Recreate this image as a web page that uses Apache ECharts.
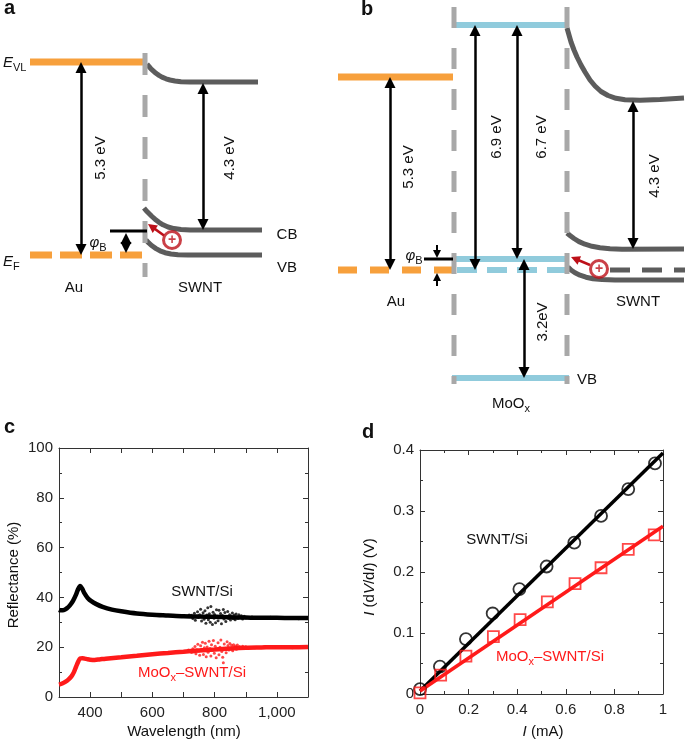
<!DOCTYPE html>
<html><head><meta charset="utf-8">
<script src="https://cdn.jsdelivr.net/npm/echarts@6/dist/echarts.min.js"></script>
<style>html,body{margin:0;padding:0;background:#fff}#c{width:685px;height:740px}</style>
</head><body><div id="c"></div>
<script>
// ================= Panel c : reflectance =================
const wavelengthLabels = [400, 600, 800, 1000];
const swntReflect = [[300,35],[305,34.8],[315,34.9],[325,35.6],[335,36.8],[345,38.6],[355,41.2],[362,43.5],[368,44.6],[374,43.6],[382,41.6],[392,39.8],[405,38.4],[420,37.3],[440,36.2],[470,35.1],[500,34.4],[550,33.5],[600,33.0],[650,32.7],[700,32.4],[750,32.3],[800,32.2],[850,32.0],[900,31.9],[950,31.8],[1000,31.8],[1050,31.7],[1100,31.7]];
const swntNoise = [[718,32.9],[725,32.8],[730,31.5],[735,33.6],[738,30.8],[742,32.1],[745,34.2],[748,31.9],[752,33.0],[755,35.2],[758,30.5],[760,32.6],[763,33.8],[766,31.2],[769,34.6],[772,29.6],[775,32.9],[778,35.8],[780,31.0],[783,33.4],[786,30.0],[788,36.3],[790,32.2],[793,29.1],[795,34.0],[798,31.6],[800,33.1],[803,29.8],[806,35.0],[808,32.4],[811,30.6],[814,34.8],[816,31.8],[819,33.5],[822,29.4],[825,32.7],[828,35.1],[830,31.3],[833,33.9],[836,30.3],[839,32.0],[842,34.3],[845,31.5],[848,33.0],[851,30.9],[854,32.5],[857,33.7],[860,31.4],[863,32.9],[866,31.0],[869,33.3],[872,32.1],[875,31.6],[878,33.0],[882,31.9],[886,32.6],[890,31.3],[895,32.4],[900,31.7],[920,32.1],[950,31.5],[980,32.0],[1010,31.5],[1040,31.9],[1070,31.4]];
const moReflect = [[300,5.0],[310,5.4],[320,6.1],[330,7.0],[340,8.3],[348,10.0],[355,12.2],[362,14.3],[368,15.5],[375,15.6],[382,15.4],[390,15.2],[400,15.0],[415,14.9],[430,15.1],[450,15.4],[500,16.0],[550,16.6],[600,17.2],[650,17.7],[700,18.2],[750,18.7],[800,19.1],[850,19.5],[900,19.8],[950,19.9],[1000,20.0],[1050,20.0],[1100,20.1]];
const moNoise = [[716,18.9],[722,18.6],[726,17.9],[730,19.4],[733,18.1],[737,20.3],[740,17.4],[743,19.0],[746,21.2],[749,18.5],[752,16.8],[755,20.6],[758,19.2],[761,22.0],[764,17.1],[767,19.8],[770,21.6],[773,16.2],[776,20.1],[779,18.0],[782,22.4],[785,19.5],[788,16.5],[790,21.0],[793,18.8],[796,22.7],[799,17.6],[802,20.4],[805,15.8],[808,19.1],[811,21.8],[814,17.0],[817,20.0],[820,22.9],[823,18.3],[826,16.0],[828,13.8],[831,21.3],[834,19.6],[837,17.8],[840,22.2],[843,20.7],[846,18.9],[849,21.5],[852,19.3],[855,20.8],[858,18.6],[861,21.0],[864,19.7],[867,20.5],[870,19.2],[873,20.9],[876,19.8],[880,20.3],[885,19.6],[890,20.4],[895,19.9],[900,20.2],[930,19.8],[960,20.3],[990,19.9],[1020,20.3],[1050,19.8],[1080,20.2]];

// ================= Panel d : I dV/dI vs I =================
const swntCurrent = [0, 0.082, 0.189, 0.299, 0.409, 0.521, 0.635, 0.745, 0.857, 0.967];
const swntIdVdI   = [0.008, 0.045, 0.090, 0.132, 0.172, 0.209, 0.248, 0.292, 0.336, 0.378];
const moCurrent   = [0, 0.085, 0.189, 0.302, 0.412, 0.524, 0.638, 0.745, 0.857, 0.964];
const moIdVdI     = [0.002, 0.031, 0.062, 0.094, 0.122, 0.151, 0.181, 0.207, 0.237, 0.261];
const swntFit = [[0, 0.005], [1, 0.395]];
const moFit   = [[0, 0.005], [1, 0.275]];

// ================= Panels a, b : band diagrams (schematic units) =================
const aAuVacuum   = [[30,62],[143,62]];
const aAuFermi    = [[30,255],[143,255]];
const aInterface  = [[145,53],[145,277]];
const aSwntVacuum = [[147,64],[149,66.5],[151,68.8],[153,70.8],[156,73.3],[159,75.4],[162,77.1],[166,78.8],[170,80],[175,81],[181,81.7],[190,82],[258,82]];
const aSwntCB     = [[144,208],[146,210.5],[149,213.5],[152,216.5],[155,219.2],[159,222.3],[163,224.8],[168,227],[174,228.6],[181,229.5],[190,230],[262,230]];
const aSwntVB     = [[146,240],[149,243.2],[152,245.8],[156,248.6],[160,250.8],[165,252.7],[171,254],[178,254.7],[188,255],[262,255]];
const aBarrier    = [[110,231],[147,231]];
const aGaps       = [[[81,62],[81,255]], [[203,83],[203,230]], [[126,233],[126,253]]];
const aHole       = [[172,240]];
const aHoleMove   = [[[164,235.5],[148,224]]];

const bAuVacuum   = [[338,77],[453,77]];
const bAuFermi    = [[338,270],[453,270]];
const bInterfaceL = [[454,7],[454,384]];
const bInterfaceR = [[567,7],[567,384]];
const bMoTop      = [[456,25],[566,25]];
const bMoLevel    = [[456,259],[566,259]];
const bMoFermi    = [[457,270],[566,270]];
const bMoVB       = [[452,378],[569,378]];
const bSwntVacuum = [[567,28],[569,35],[571,42],[574,50],[577,57],[581,65],[585,72],[590,80],[595,86],[601,91.5],[608,95.5],[616,98.3],[625,99.8],[640,100.3],[660,99.5],[684,98]];
const bSwntCB     = [[567,233],[570,235.5],[574,238.5],[579,241.6],[585,244.2],[592,246.3],[600,247.8],[610,248.8],[622,249.3],[684,249]];
const bSwntVB     = [[568,267],[571,270],[575,272.8],[580,275.2],[586,277.2],[593,278.7],[602,279.6],[615,280],[684,280]];
const bSwntFermi  = [[610,270],[685,270]];
const bBarrier    = [[424,259],[453,259]];
const bGaps       = [[[390,77],[390,270]], [[475,25],[475,270]], [[517,25],[517,259]], [[524,259],[524,378]], [[633,101],[633,249]]];
const bBarrierArrows = [[[437,245],[437,258]], [[437,286],[437,273]]];
const bHole       = [[599,269]];
const bHoleMove   = [[[590,265],[571,257]]];

// ================= styling & construction =================
const FONT = "'Liberation Sans', Arial, Helvetica, sans-serif";
const ORANGE = '#f7a03c', BLUE = '#90cbdc', DGRAY = '#5c5c5c', LGRAY = '#a8a8a8', HRED = '#bd1019';

function level(data, color, width, dash) {
  return {type:'line', xAxisIndex:0, yAxisIndex:0, data, showSymbol:false, symbol:'none', silent:true,
    lineStyle:{color, width, type: dash || 'solid', cap:'butt', join:'round'}, z:2};
}
function inset(seg, d1, d2) {
  const [[x1,y1],[x2,y2]] = seg; const L = Math.hypot(x2-x1, y2-y1);
  const ux = (x2-x1)/L, uy = (y2-y1)/L;
  return [[x1+ux*d1, y1+uy*d1],[x2-ux*d2, y2-uy*d2]];
}
function arrows(list, color, width, size, both) {
  const h = size/2;
  return {type:'lines', coordinateSystem:'cartesian2d', xAxisIndex:0, yAxisIndex:0, silent:true, z:5,
    symbol: both ? ['triangle','triangle'] : ['none','triangle'], symbolSize: size,
    lineStyle:{color, width, opacity:1, curveness:0},
    data: list.map(s => ({coords: inset(s, both ? h : 0, h)}))};
}
function hole(data) {
  return {type:'scatter', xAxisIndex:0, yAxisIndex:0, data, symbol:'circle', symbolSize:17, silent:true, z:6,
    itemStyle:{color:'#fff', borderColor:HRED, borderWidth:3},
    label:{show:true, position:'inside', formatter:'+', color:HRED, fontSize:14, fontWeight:'bold', fontFamily:FONT}};
}
function frameAxis(gridIndex, pos, min, max, interval, minor, showLabel, fmt) {
  return {type:'value', gridIndex, position:pos, min, max, interval,
    axisLine:{show:true, onZero:false, lineStyle:{color:'#333', width:1}},
    axisTick:{show:true, inside:true, length:5, lineStyle:{color:'#333'}},
    minorTick:{show:minor > 0, splitNumber: minor || 1, length:3, lineStyle:{color:'#333'}},
    splitLine:{show:false}, minorSplitLine:{show:false},
    axisLabel:{show:showLabel, fontFamily:FONT, fontSize:15, color:'#222', margin: pos==='left'?6:8, formatter:fmt}};
}
function txt(x, y, text, o) {
  o = o || {};
  const color = o.color || '#111';
  const rich = {};
  if (o.rich) for (const k in o.rich) rich[k] = Object.assign({fill:color, fontFamily:FONT, fontSize:o.size||15}, o.rich[k]);
  return {type:'text', x, y, rotation:o.rot||0, silent:true, z:100,
    style:{text, fill:color, fontFamily:FONT, fontSize:o.size||15, fontWeight:o.weight||'normal', fontStyle:o.style||'normal',
      align:o.align||'center', verticalAlign:'middle', textAlign:o.align||'center', textVerticalAlign:'middle', rich}};
}
// main glyphs hang from the top of a tall line, subscripts sit at its bottom
const baseRich = {
  n:{lineHeight:18, verticalAlign:'top'},
  i:{fontStyle:'italic', lineHeight:18, verticalAlign:'top'},
  s:{fontSize:11, verticalAlign:'bottom'}
};
const UP = Math.PI/2;

const fmtWave = v => (wavelengthLabels.indexOf(v) >= 0 ? (v >= 1000 ? String(v).replace(/(\d)(\d{3})$/, '$1,$2') : String(v)) : '');

const chart = echarts.init(document.getElementById('c'), null, {renderer:'canvas'});
chart.setOption({
  animation:false,
  backgroundColor:'#fff',
  grid:[
    {left:0, top:0, width:685, height:740, outerBoundsMode:'none'},
    {left:59, top:448, width:249, height:249, outerBoundsMode:'none'},
    {left:420, top:450, width:243, height:244, outerBoundsMode:'none'}
  ],
  xAxis:[
    {type:'value', gridIndex:0, min:0, max:685, show:false},
    frameAxis(1, 'bottom', 300, 1100, 100, 0, true, fmtWave),
    frameAxis(1, 'top', 300, 1100, 100, 0, false),
    frameAxis(2, 'bottom', 0, 1, 0.2, 2, true),
    frameAxis(2, 'top', 0, 1, 0.2, 2, false)
  ],
  yAxis:[
    {type:'value', gridIndex:0, min:0, max:740, inverse:true, show:false},
    frameAxis(1, 'left', 0, 100, 20, 2, true),
    frameAxis(1, 'right', 0, 100, 20, 2, false),
    frameAxis(2, 'left', 0, 0.4, 0.1, 2, true),
    frameAxis(2, 'right', 0, 0.4, 0.1, 2, false)
  ],
  series:[
    // ---- panel a ----
    level(aAuVacuum, ORANGE, 7),
    level(aAuFermi, ORANGE, 7, [22,8]),
    level(aSwntVacuum, DGRAY, 5),
    level(aSwntCB, DGRAY, 5),
    level(aSwntVB, DGRAY, 5),
    level(aInterface, LGRAY, 5, [22,20]),
    level(aBarrier, '#000', 3),
    arrows(aGaps, '#000', 2.5, 11, true),
    arrows(aHoleMove, HRED, 2.5, 9, false),
    hole(aHole),
    // ---- panel b ----
    level(bAuVacuum, ORANGE, 7),
    level(bAuFermi, ORANGE, 7, [19,13]),
    level(bMoTop, BLUE, 6),
    level(bMoLevel, BLUE, 6),
    level(bMoFermi, BLUE, 6, [20,10]),
    level(bMoVB, BLUE, 6),
    level(bSwntVacuum, DGRAY, 5),
    level(bSwntCB, DGRAY, 5),
    level(bSwntVB, DGRAY, 5),
    level(bSwntFermi, DGRAY, 5, [20,12]),
    level(bInterfaceL, LGRAY, 5, [21,20]),
    level(bInterfaceR, LGRAY, 5, [21,20]),
    level(bBarrier, '#000', 3),
    arrows(bGaps, '#000', 2.5, 11, true),
    arrows(bBarrierArrows, '#000', 2, 8, false),
    arrows(bHoleMove, HRED, 2.5, 9, false),
    hole(bHole),
    // ---- panel c ----
    {type:'line', xAxisIndex:1, yAxisIndex:1, data:swntReflect, showSymbol:false, smooth:0.3, lineStyle:{color:'#000', width:4.5}, z:3},
    {type:'scatter', xAxisIndex:1, yAxisIndex:1, data:swntNoise, symbolSize:3, itemStyle:{color:'#000'}, z:3},
    {type:'line', xAxisIndex:1, yAxisIndex:1, data:moReflect, showSymbol:false, smooth:0.3, lineStyle:{color:'#ff1a1a', width:4.5}, z:3},
    {type:'scatter', xAxisIndex:1, yAxisIndex:1, data:moNoise, symbolSize:3, itemStyle:{color:'#ff1a1a'}, z:3},
    // ---- panel d ----
    {type:'line', xAxisIndex:3, yAxisIndex:3, data:swntFit, showSymbol:false, lineStyle:{color:'#000', width:3.5}, z:3},
    {type:'line', xAxisIndex:3, yAxisIndex:3, data:moFit, showSymbol:false, lineStyle:{color:'#ff1a1a', width:3.5}, z:3},
    {type:'scatter', xAxisIndex:3, yAxisIndex:3, data:swntCurrent.map((c,i)=>[c, swntIdVdI[i]]), symbol:'circle', symbolSize:12,
      itemStyle:{color:'rgba(0,0,0,0)', borderColor:'#000', borderWidth:1.8}, z:4},
    {type:'scatter', xAxisIndex:3, yAxisIndex:3, data:moCurrent.map((c,i)=>[c, moIdVdI[i]]), symbol:'rect', symbolSize:11,
      itemStyle:{color:'rgba(0,0,0,0)', borderColor:'#ff1a1a', borderWidth:1.8}, z:4}
  ],
  graphic:[
    // panel letters
    txt(4, 8, 'a', {weight:'bold', size:20, align:'left'}),
    txt(361, 9, 'b', {weight:'bold', size:20, align:'left'}),
    txt(4, 427, 'c', {weight:'bold', size:20, align:'left'}),
    txt(362, 432, 'd', {weight:'bold', size:20, align:'left'}),
    // panel a texts
    txt(3, 64, '{i|E}{s|VL}', {align:'left', rich:baseRich}),
    txt(3, 263, '{i|E}{s|F}', {align:'left', rich:baseRich}),
    txt(101, 158, '5.3 eV', {rot:UP}),
    txt(230, 158, '4.3 eV', {rot:UP}),
    txt(98, 244, '{i|φ}{s|B}', {rich:baseRich}),
    txt(287, 235, 'CB'),
    txt(287, 268, 'VB'),
    txt(74, 288, 'Au'),
    txt(200, 288, 'SWNT'),
    // panel b texts
    txt(409, 167, '5.3 eV', {rot:UP}),
    txt(497, 137, '6.9 eV', {rot:UP}),
    txt(542, 137, '6.7 eV', {rot:UP}),
    txt(655, 176, '4.3 eV', {rot:UP}),
    txt(543, 322, '3.2eV', {rot:UP}),
    txt(414, 257, '{i|φ}{s|B}', {rich:baseRich}),
    txt(396, 302, 'Au'),
    txt(638, 302, 'SWNT'),
    txt(577, 380, 'VB', {align:'left'}),
    txt(511, 405, '{n|MoO}{s|x}', {rich:baseRich}),
    // panel c texts
    txt(14, 575, 'Reflectance (%)', {rot:UP}),
    txt(184, 732, 'Wavelength (nm)'),
    txt(202, 592, 'SWNT/Si'),
    txt(192, 674, '{n|MoO}{s|x}{n|–SWNT/Si}', {color:'#ff1a1a', rich:baseRich}),
    // panel d texts
    txt(371, 577, '{i|I}{n| (d}{i|V}{n|/d}{i|I}{n|) (V)}', {rot:UP, rich:baseRich}),
    txt(543, 733, '{i|I}{n| (mA)}', {rich:baseRich}),
    txt(497, 540, 'SWNT/Si'),
    txt(550, 658, '{n|MoO}{s|x}{n|–SWNT/Si}', {color:'#ff1a1a', rich:baseRich})
  ]
});
</script></body></html>
